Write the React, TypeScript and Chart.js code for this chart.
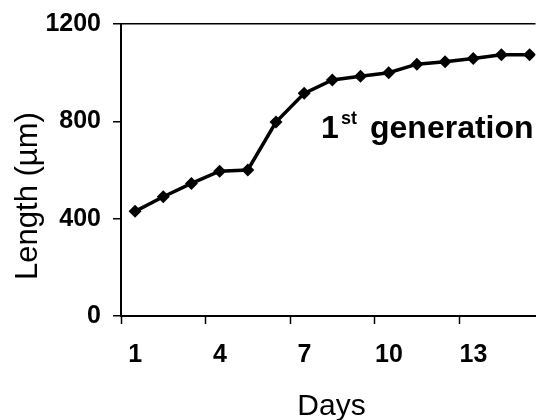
import React, { useEffect, useRef } from "react";
import { Chart, registerables } from "chart.js";

Chart.register(...registerables);

const days = [1, 2, 3, 4, 5, 6, 7, 8, 9, 10, 11, 12, 13, 14, 15];
const lengths = [430, 490, 545, 595, 600, 797, 915, 970, 985, 1000, 1035, 1045, 1058, 1074, 1074];
const xTickDays = [1, 4, 7, 10, 13];
const yTickValues = [0, 400, 800, 1200];
const xTitle = "Days";
const yTitle = "Length (µm)";
const noteMain = "1";
const noteSup = "st";
const noteRest = "generation";

const FONT = "'Liberation Sans', Arial, sans-serif";

const textPlugin = {
  id: "texts",
  afterDraw(chart: any) {
    const ctx = chart.ctx;
    const area = chart.chartArea;
    ctx.save();
    ctx.fillStyle = "#000";
    // x title
    ctx.font = `30px ${FONT}`;
    ctx.textAlign = "center";
    ctx.textBaseline = "alphabetic";
    ctx.fillText(xTitle, (area.left + 542) / 2, 415);
    // y title
    ctx.save();
    ctx.translate(37, 196);
    ctx.rotate(-Math.PI / 2);
    ctx.font = `31px ${FONT}`;
    ctx.textAlign = "center";
    ctx.fillText(yTitle, 0, 0);
    ctx.restore();
    // annotation
    ctx.textAlign = "left";
    ctx.font = `bold 32px ${FONT}`;
    ctx.fillText(noteMain, 321, 138);
    ctx.font = `bold 18px ${FONT}`;
    ctx.fillText(noteSup, 341, 124);
    ctx.font = `bold 32px ${FONT}`;
    ctx.fillText(noteRest, 370, 138);
    ctx.restore();
  },
};

export default function App() {
  const ref = useRef<HTMLCanvasElement>(null);
  useEffect(() => {
    if (!ref.current) return;
    const chart = new Chart(ref.current, {
      type: "line",
      data: {
        datasets: [
          {
            data: days.map((d, i) => ({ x: d, y: lengths[i] })),
            borderColor: "#000",
            backgroundColor: "#000",
            borderWidth: 3.5,
            pointStyle: "rectRot",
            pointRadius: 6.5,
            pointBorderWidth: 0,
            pointBackgroundColor: "#000",
            tension: 0,
          },
        ],
      },
      options: {
        animation: false,
        responsive: false,
        devicePixelRatio: 1,
        layout: { padding: { top: 24, left: 0, right: 0, bottom: 0 } },
        plugins: { legend: { display: false }, tooltip: { enabled: false }, title: { display: false } },
        scales: {
          x: {
            type: "linear",
            min: 0.5,
            max: 15.21,
            afterBuildTicks: (scale: any) => {
              scale.ticks = xTickDays.map((d) => ({ value: d - 0.5 }));
            },
            afterFit: (scale: any) => {
              scale.height = 104;
              scale.paddingLeft = 0;
              scale.paddingRight = 0;
            },
            ticks: {
              color: "#000",
              font: { family: FONT, size: 25, weight: "bold" },
              padding: 16,
              labelOffset: 14.3,
              maxRotation: 0,
              autoSkip: false,
              callback: (v: any) => String(Number(v) + 0.5),
            },
            grid: {
              drawOnChartArea: false,
              drawTicks: true,
              tickLength: 8,
              tickColor: "#000",
              tickWidth: 1.5,
            },
            border: { display: true, color: "#000", width: 2 },
          },
          y: {
            type: "linear",
            min: 0,
            max: 1200,
            afterBuildTicks: (scale: any) => {
              scale.ticks = yTickValues.map((v) => ({ value: v }));
            },
            afterFit: (scale: any) => {
              scale.width = 121;
              scale.paddingTop = 0;
              scale.paddingBottom = 0;
            },
            ticks: {
              color: "#000",
              font: { family: FONT, size: 25, weight: "bold" },
              padding: 12,
              autoSkip: false,
              callback: (v: any) => String(v),
            },
            grid: {
              drawOnChartArea: true,
              color: (c: any) => (c.tick && c.tick.value === 1200 ? "#000" : "rgba(0,0,0,0)"),
              lineWidth: 1.5,
              drawTicks: true,
              tickLength: 8,
              tickColor: "#000",
              tickWidth: 1.5,
            },
            border: { display: true, color: "#000", width: 2 },
          },
        },
      },
      plugins: [textPlugin],
    });
    return () => chart.destroy();
  }, []);
  return (
    <div style={{ position: "fixed", left: 0, top: 0, width: 542, height: 420, overflow: "hidden", background: "#fff" }}>
      <canvas ref={ref} width={542} height={420} style={{ display: "block" }} />
    </div>
  );
}
